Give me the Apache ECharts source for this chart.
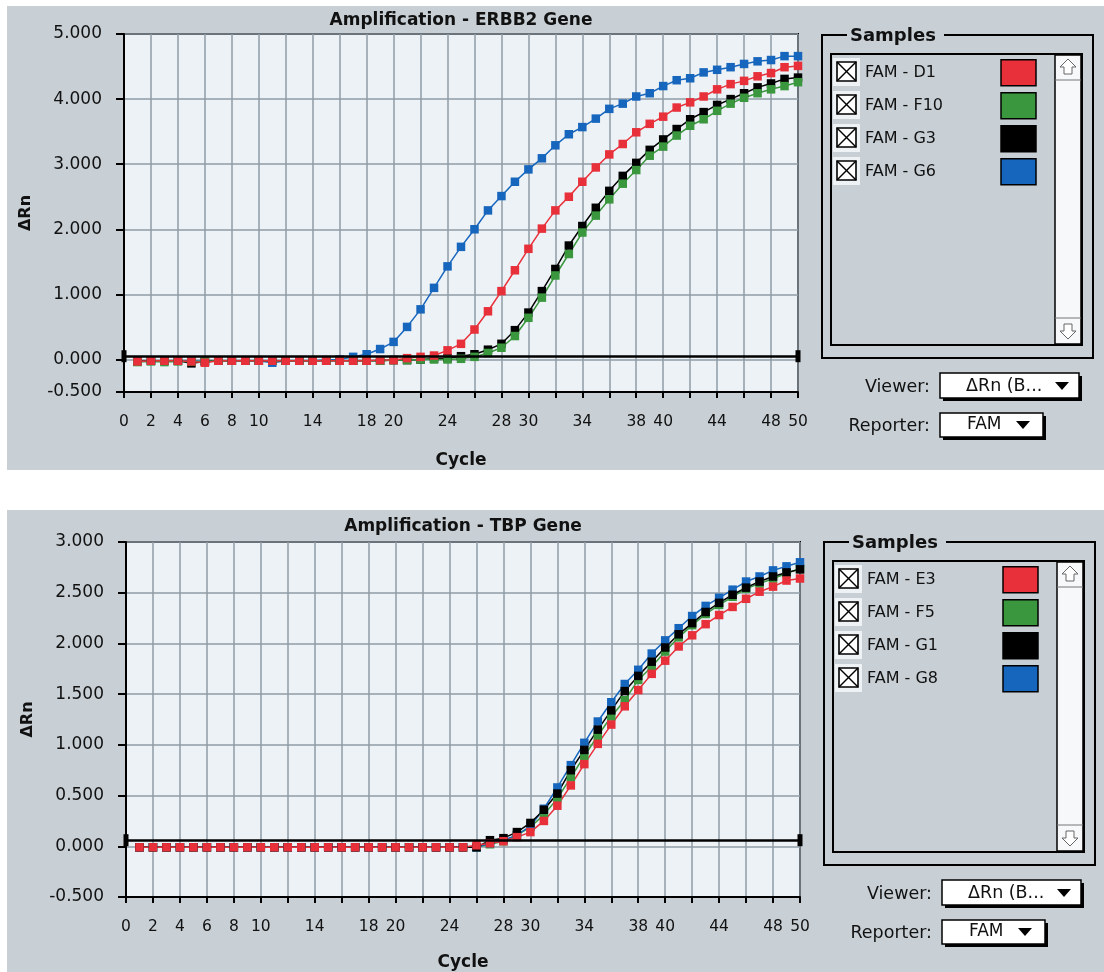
<!DOCTYPE html>
<html><head><meta charset="utf-8">
<script src="https://cdn.jsdelivr.net/npm/echarts@6/dist/echarts.min.js"></script>
<style>html,body{margin:0;padding:0;background:#fff}#c{width:1104px;height:972px}</style>
</head><body><div id="c"></div><script>
// ---------- data ----------
const cycles = [1,2,3,4,5,6,7,8,9,10,11,12,13,14,15,16,17,18,19,20,21,22,23,24,25,26,27,28,29,30,31,32,33,34,35,36,37,38,39,40,41,42,43,44,45,46,47,48,49,50];
const xTickLabels = [0,2,4,6,8,10,14,18,20,24,28,30,34,38,40,44,48,50];
const erbbYTicks = [-0.5,0,1,2,3,4,5];

const erbbTitle = 'Amplification - ERBB2 Gene';
const erbbNames = ['FAM - D1','FAM - F10','FAM - G3','FAM - G6'];
const erbbD1 = [-0.03,-0.02,-0.02,-0.02,-0.03,-0.05,-0.02,-0.02,-0.02,-0.02,-0.02,-0.02,-0.02,-0.02,-0.02,-0.02,-0.02,-0.02,-0.01,-0.01,0.02,0.04,0.06,0.14,0.24,0.46,0.74,1.05,1.37,1.70,2.01,2.29,2.50,2.73,2.95,3.15,3.31,3.49,3.62,3.73,3.87,3.95,4.04,4.15,4.23,4.28,4.35,4.40,4.49,4.51];
const erbbF10 = [-0.04,-0.03,-0.04,-0.03,-0.03,-0.03,-0.02,-0.02,-0.02,-0.02,-0.02,-0.02,-0.02,-0.02,-0.02,-0.02,-0.02,-0.02,-0.02,-0.01,-0.01,0.00,0.00,0.00,0.01,0.04,0.10,0.18,0.36,0.64,0.95,1.29,1.62,1.95,2.21,2.46,2.70,2.91,3.13,3.27,3.44,3.59,3.69,3.82,3.93,4.02,4.09,4.15,4.20,4.26];
const erbbG3 = [-0.03,-0.02,-0.02,-0.02,-0.06,-0.03,-0.02,-0.02,-0.02,-0.02,-0.02,-0.02,-0.02,-0.02,-0.02,-0.02,-0.02,-0.02,-0.02,-0.01,-0.01,0.00,0.01,0.02,0.05,0.08,0.15,0.24,0.45,0.72,1.05,1.39,1.75,2.05,2.33,2.59,2.82,3.02,3.22,3.38,3.54,3.69,3.80,3.91,4.00,4.09,4.18,4.24,4.31,4.33];
const erbbG6 = [-0.03,-0.02,-0.02,-0.02,-0.02,-0.03,-0.02,-0.02,-0.02,-0.02,-0.05,-0.02,-0.02,-0.02,-0.01,0.00,0.04,0.08,0.16,0.27,0.50,0.77,1.10,1.43,1.73,2.00,2.29,2.51,2.73,2.92,3.09,3.29,3.46,3.57,3.70,3.85,3.93,4.04,4.09,4.20,4.29,4.32,4.41,4.45,4.49,4.54,4.58,4.60,4.66,4.66];
const erbbThreshold = 0.05;

const tbpTitle = 'Amplification - TBP Gene';
const tbpNames = ['FAM - E3','FAM - F5','FAM - G1','FAM - G8'];
const tbpYTicks = [-0.5,0,0.5,1,1.5,2,2.5,3];
const tbpE3 = [-0.01,-0.01,-0.01,-0.01,-0.01,-0.01,-0.01,-0.01,-0.01,-0.01,-0.01,-0.01,-0.01,-0.01,-0.01,-0.01,-0.01,-0.01,-0.01,-0.01,-0.01,-0.01,-0.01,-0.01,-0.01,0.01,0.03,0.05,0.09,0.14,0.25,0.40,0.60,0.81,1.01,1.20,1.38,1.54,1.70,1.83,1.97,2.08,2.19,2.28,2.36,2.44,2.51,2.56,2.62,2.64];
const tbpF5 = [-0.01,-0.01,-0.01,-0.01,-0.01,-0.01,-0.01,-0.01,-0.01,-0.01,-0.01,-0.01,-0.01,-0.01,-0.01,-0.01,-0.01,-0.01,-0.01,-0.01,-0.01,-0.01,-0.01,-0.01,-0.01,-0.01,0.02,0.05,0.11,0.19,0.31,0.47,0.68,0.89,1.09,1.28,1.44,1.64,1.77,1.92,2.06,2.18,2.29,2.38,2.46,2.54,2.59,2.64,2.69,2.74];
const tbpG1 = [-0.01,-0.01,-0.01,-0.01,-0.01,-0.01,-0.01,-0.01,-0.01,-0.01,-0.01,-0.01,-0.01,-0.01,-0.01,-0.01,-0.01,-0.01,-0.01,-0.01,-0.01,-0.01,-0.01,-0.01,-0.01,-0.01,0.06,0.08,0.14,0.23,0.36,0.52,0.75,0.95,1.15,1.34,1.53,1.68,1.82,1.96,2.09,2.20,2.31,2.40,2.48,2.55,2.61,2.66,2.70,2.73];
const tbpG8 = [-0.01,-0.01,-0.01,-0.01,-0.01,-0.01,-0.01,-0.01,-0.01,-0.01,-0.01,-0.01,-0.01,-0.01,-0.01,-0.01,-0.01,-0.01,-0.01,-0.01,-0.01,-0.01,-0.01,-0.01,-0.01,-0.01,0.03,0.06,0.11,0.20,0.37,0.58,0.80,1.02,1.23,1.42,1.60,1.74,1.90,2.03,2.15,2.27,2.37,2.45,2.53,2.61,2.66,2.72,2.76,2.80];
const tbpThreshold = 0.06;

// ---------- style ----------
const COLORS = ['#e8303a','#3a973e','#000000','#1766bd']; // red, green, black, blue
const PANEL = '#c8d0d6';
const PLOTBG = '#edf2f6';
const GRIDC = '#8f9ba5';
const FONT = '"DejaVu Sans", sans-serif';

function pairs(vals){ return cycles.map((c,i)=>[c, vals[i]]); }

function mkSeries(name, vals, color, xi, thr){
  const s = {
    name, type:'line', xAxisIndex:xi, yAxisIndex:xi, data:pairs(vals),
    symbol:'rect', symbolSize:8.5, showAllSymbol:true,
    lineStyle:{color, width:1.5}, itemStyle:{color},
    emphasis:{disabled:true}, animation:false
  };
  if (thr !== undefined) {
    s.markLine = {silent:true, symbol:['rect','rect'], symbolSize:[12,5], animation:false,
      lineStyle:{color:'#000', width:2.5, type:'solid'}, label:{show:false},
      data:[{yAxis:thr}]};
  }
  return s;
}

function xAxisCfg(gi, gap){
  return {gridIndex:gi, type:'value', min:0, max:50, interval:2,
    axisLine:{show:true, onZero:false, lineStyle:{color:'#000', width:2}},
    axisTick:{show:true, length:6, lineStyle:{color:'#000', width:2}},
    axisLabel:{customValues:xTickLabels, fontSize:15.5, color:'#111', margin:22, fontFamily:FONT},
    splitLine:{show:true, lineStyle:{color:GRIDC, width:1.5}},
    name:'Cycle', nameLocation:'middle', nameGap:gap,
    nameTextStyle:{fontWeight:'bold', fontSize:17, color:'#111', fontFamily:FONT}};
}
function yAxisCfg(gi, min, max, ticks){
  return {gridIndex:gi, type:'value', min, max,
    axisLine:{show:true, onZero:false, lineStyle:{color:'#000', width:2}},
    axisTick:{show:true, length:8, customValues:ticks, lineStyle:{color:'#000', width:2}},
    axisLabel:{customValues:ticks, formatter:v=>v.toFixed(3), fontSize:17, color:'#111', margin:22, fontFamily:FONT},
    splitLine:{show:true, lineStyle:{color:GRIDC, width:1.5}},
    name:'ΔRn', nameLocation:'middle', nameGap:90, nameRotate:90,
    nameTextStyle:{fontWeight:'bold', fontSize:16, color:'#111', fontFamily:FONT}};
}
function legendCfg(names, left, top){
  return {data:names, orient:'vertical', left, top, padding:0, itemWidth:35, itemHeight:26, itemGap:5.5,
    align:'right', icon:'rect', selectedMode:false,
    itemStyle:{borderColor:'#000', borderWidth:1.5},
    formatter:n=>'{a|'+n+'}',
    textStyle:{color:'#111', fontSize:16, fontFamily:FONT, rich:{a:{width:131, align:'left', fontSize:16, fontFamily:FONT, color:'#111'}}}};
}

function sidePanel(ox, oy){
  const els = [];
  const rows = [72,105,138,171];
  // group frame
  els.push({type:'rect', shape:{x:822+ox,y:35+oy,width:271,height:323}, style:{fill:null, stroke:'#000', lineWidth:2}});
  els.push({type:'rect', shape:{x:847+ox,y:26+oy,width:97,height:18}, style:{fill:PANEL}});
  els.push({type:'text', x:850+ox, y:36+oy, style:{text:'Samples', font:'bold 18px '+FONT, fill:'#111', verticalAlign:'middle'}});
  // list box
  els.push({type:'rect', shape:{x:831+ox,y:54+oy,width:251,height:291}, style:{fill:null, stroke:'#000', lineWidth:2}});
  // scrollbar
  els.push({type:'rect', shape:{x:1055+ox,y:55+oy,width:26,height:289}, style:{fill:'#f6f8fa', stroke:'#000', lineWidth:1.5}});
  els.push({type:'line', shape:{x1:1055+ox,y1:80+oy,x2:1081+ox,y2:80+oy}, style:{stroke:'#777', lineWidth:1}});
  els.push({type:'line', shape:{x1:1055+ox,y1:318+oy,x2:1081+ox,y2:318+oy}, style:{stroke:'#777', lineWidth:1}});
  const cx = 1068+ox;
  let cy = 67+oy;
  els.push({type:'polygon', shape:{points:[[cx,cy-8],[cx+8,cy],[cx+4,cy],[cx+4,cy+7],[cx-4,cy+7],[cx-4,cy],[cx-8,cy]]}, style:{fill:'#fff', stroke:'#666', lineWidth:1}});
  cy = 331+oy;
  els.push({type:'polygon', shape:{points:[[cx,cy+8],[cx+8,cy],[cx+4,cy],[cx+4,cy-7],[cx-4,cy-7],[cx-4,cy],[cx-8,cy]]}, style:{fill:'#fff', stroke:'#666', lineWidth:1}});
  // checkboxes
  rows.forEach(r=>{
    const y = r+oy, x = 833+ox;
    els.push({type:'rect', shape:{x:x,y:y-14,width:27,height:28}, style:{fill:'#eef2f5'}});
    els.push({type:'rect', shape:{x:x+4,y:y-10,width:19,height:19}, style:{fill:'#fff', stroke:'#000', lineWidth:1.6}});
    els.push({type:'line', shape:{x1:x+4,y1:y-10,x2:x+23,y2:y+9}, style:{stroke:'#000', lineWidth:1.4}});
    els.push({type:'line', shape:{x1:x+23,y1:y-10,x2:x+4,y2:y+9}, style:{stroke:'#000', lineWidth:1.4}});
  });
  // Viewer
  els.push({type:'text', x:930+ox, y:387+oy, style:{text:'Viewer:', font:'17.5px '+FONT, fill:'#111', align:'right', verticalAlign:'middle'}});
  els.push({type:'rect', shape:{x:943+ox,y:376+oy,width:139,height:25}, style:{fill:'#000'}});
  els.push({type:'rect', shape:{x:940+ox,y:373+oy,width:139,height:25}, style:{fill:'#fff', stroke:'#000', lineWidth:1.5}});
  els.push({type:'text', x:966+ox, y:386+oy, style:{text:'ΔRn (B...', font:'17.5px '+FONT, fill:'#111', verticalAlign:'middle'}});
  els.push({type:'polygon', shape:{points:[[1055+ox,382+oy],[1069+ox,382+oy],[1062+ox,390+oy]]}, style:{fill:'#000'}});
  // Reporter
  els.push({type:'text', x:930+ox, y:426+oy, style:{text:'Reporter:', font:'17.5px '+FONT, fill:'#111', align:'right', verticalAlign:'middle'}});
  els.push({type:'rect', shape:{x:943+ox,y:416+oy,width:103,height:24}, style:{fill:'#000'}});
  els.push({type:'rect', shape:{x:940+ox,y:413+oy,width:103,height:24}, style:{fill:'#fff', stroke:'#000', lineWidth:1.5}});
  els.push({type:'text', x:967+ox, y:425+oy, style:{text:'FAM', font:'17px '+FONT, fill:'#111', verticalAlign:'middle'}});
  els.push({type:'polygon', shape:{points:[[1016+ox,421+oy],[1030+ox,421+oy],[1023+ox,429+oy]]}, style:{fill:'#000'}});
  return els;
}

const graphics = [
  {type:'rect', z:-10, shape:{x:7,y:6,width:1097,height:464}, style:{fill:PANEL}},
  {type:'rect', z:-10, shape:{x:7,y:510,width:1097,height:462}, style:{fill:PANEL}},
  ...sidePanel(0,0),
  ...sidePanel(2,507)
];

const option = {
  backgroundColor:'#ffffff',
  animation:false,
  textStyle:{fontFamily:FONT},
  title:[
    {text:erbbTitle, left:461, top:12, textAlign:'center', padding:0, textStyle:{fontSize:17, fontWeight:'bold', color:'#111', fontFamily:FONT}},
    {text:tbpTitle, left:463, top:518, textAlign:'center', padding:0, textStyle:{fontSize:17, fontWeight:'bold', color:'#111', fontFamily:FONT}}
  ],
  legend:[ legendCfg(erbbNames, 865, 59), legendCfg(tbpNames, 867, 566) ],
  grid:[
    {left:124, top:34, width:674, height:358, show:true, backgroundColor:PLOTBG, borderColor:'#000', borderWidth:2},
    {left:126, top:542, width:674, height:357, show:true, backgroundColor:PLOTBG, borderColor:'#000', borderWidth:2}
  ],
  xAxis:[ xAxisCfg(0, 60), xAxisCfg(1, 57) ],
  yAxis:[ yAxisCfg(0, -0.5, 5, erbbYTicks), yAxisCfg(1, -0.5, 3, tbpYTicks) ],
  graphic: graphics,
  series:[
    mkSeries(erbbNames[3], erbbG6, COLORS[3], 0, erbbThreshold),
    mkSeries(erbbNames[2], erbbG3, COLORS[2], 0),
    mkSeries(erbbNames[1], erbbF10, COLORS[1], 0),
    mkSeries(erbbNames[0], erbbD1, COLORS[0], 0),
    mkSeries(tbpNames[1], tbpF5, COLORS[1], 1, tbpThreshold),
    mkSeries(tbpNames[3], tbpG8, COLORS[3], 1),
    mkSeries(tbpNames[2], tbpG1, COLORS[2], 1),
    mkSeries(tbpNames[0], tbpE3, COLORS[0], 1)
  ]
};
const chart = echarts.init(document.getElementById('c'), null, {renderer:'canvas'});
chart.setOption(option);
</script></body></html>
